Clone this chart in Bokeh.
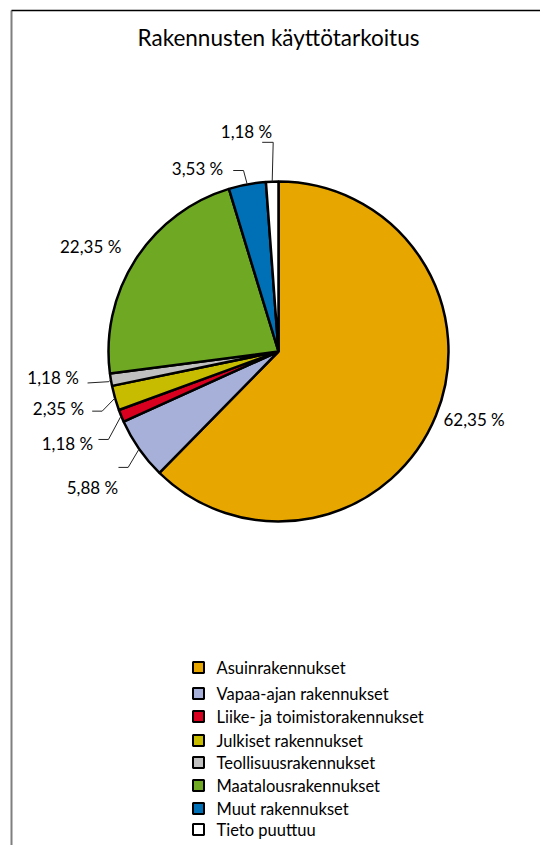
import numpy as np
from bokeh.plotting import figure
from bokeh.models import Range1d, ColumnDataSource
from bokeh.core.properties import value
from bokeh.embed import file_html
from bokeh.resources import INLINE

# ---------------- data ----------------
title = "Rakennusten käyttötarkoitus"
categories = ["Asuinrakennukset", "Vapaa-ajan rakennukset", "Liike- ja toimistorakennukset",
              "Julkiset rakennukset", "Teollisuusrakennukset", "Maatalousrakennukset",
              "Muut rakennukset", "Tieto puuttuu"]
shares = [62.35, 5.88, 1.18, 2.35, 1.18, 22.35, 3.53, 1.18]
labels = ["62,35 %", "5,88 %", "1,18 %", "2,35 %", "1,18 %", "22,35 %", "3,53 %", "1,18 %"]
colors = ["#E8A600", "#A6B0D8", "#D9001F", "#C8BC00", "#C0C0C0", "#6FA823", "#0070B6", "#FFFFFF"]

# ---------------- layout ----------------
W, H = 540, 845
CX, CY, R = 278, H - 351, 170
FONT = "Lato"
# label offsets relative to the slice's rim point (elbow, end of leader, label centre)
label_align = ["left", "center", "center", "center", "center", "center", "center", "center"]
label_off = [(7.6, -4), (-46.7, -38.5), (-53.7, -27.6), (-56.5, -10.4),
             (-57.8, 2), (-45, 13), (-49.7, 15.9), (-25.7, 50)]
leader_elbow = [None, (-11, -18.5), (-12.7, -23.6), (-12.8, -13.1),
                (-2, -2), None, (-3.7, 13.9), (1, 39.3)]
leader_end = [None, (-20.7, -18.5), (-22.7, -23.6), (-22.8, -13.1),
              (-23.3, -3.3), None, (-14, 13.9), (-10, 39.3)]
legend_x = 198
legend_y = [H - v for v in [667, 693, 716, 740, 762, 785, 808, 829]]

p = figure(width=W, height=H, output_backend="svg", toolbar_location=None,
           x_range=Range1d(0, W), y_range=Range1d(0, H), min_border=0)
p.axis.visible = False
p.grid.visible = False
p.outline_line_color = None
p.background_fill_color = "white"
p.border_fill_color = "white"

# chart-area frame (extends beyond the window on right/bottom)
p.line([11, 11], [H - 10, -10], line_color="#7f7f7f", line_width=2)
p.line([11, W + 10], [H - 10, H - 10], line_color="black", line_width=1.5)

# pie
frac = np.array(shares) / np.sum(shares)
cum = np.cumsum(frac)
start = np.pi / 2 - 2 * np.pi * (cum - frac)
end = np.pi / 2 - 2 * np.pi * cum
src = ColumnDataSource(dict(start=start, end=end, color=colors, cat=categories))
p.wedge(x=CX, y=CY, radius=R, start_angle="start", end_angle="end", direction="clock",
        fill_color="color", line_color="black", line_width=2.5, source=src)

mid = (start + end) / 2
ax = CX + R * np.cos(mid)
ay = CY + R * np.sin(mid)

xs, ys = [], []
for i in range(len(shares)):
    if leader_elbow[i] is not None:
        xs.append([ax[i], ax[i] + leader_elbow[i][0], ax[i] + leader_end[i][0]])
        ys.append([ay[i], ay[i] + leader_elbow[i][1], ay[i] + leader_end[i][1]])
p.multi_line(xs, ys, line_color="#222222", line_width=1)

for i in range(len(shares)):
    p.text(x=[ax[i] + label_off[i][0]], y=[ay[i] + label_off[i][1]], text=[labels[i]],
           text_font=value(FONT), text_font_size=value("17px"), text_color="black",
           text_align=label_align[i], text_baseline="middle")

# title
p.text(x=[CX], y=[H - 37], text=[title], text_font=value(FONT), text_font_size=value("22.5px"),
       text_color="black", text_align="center", text_baseline="middle")

# legend
p.rect(x=[legend_x] * len(categories), y=legend_y, width=11, height=11,
       fill_color=colors, line_color="black", line_width=2)
p.text(x=[legend_x + 18] * len(categories), y=legend_y, text=categories,
       text_font=value(FONT), text_font_size=value("16.5px"), text_color="black",
       text_align="left", text_baseline="middle")

open("out.html", "w").write(file_html(p, INLINE))
